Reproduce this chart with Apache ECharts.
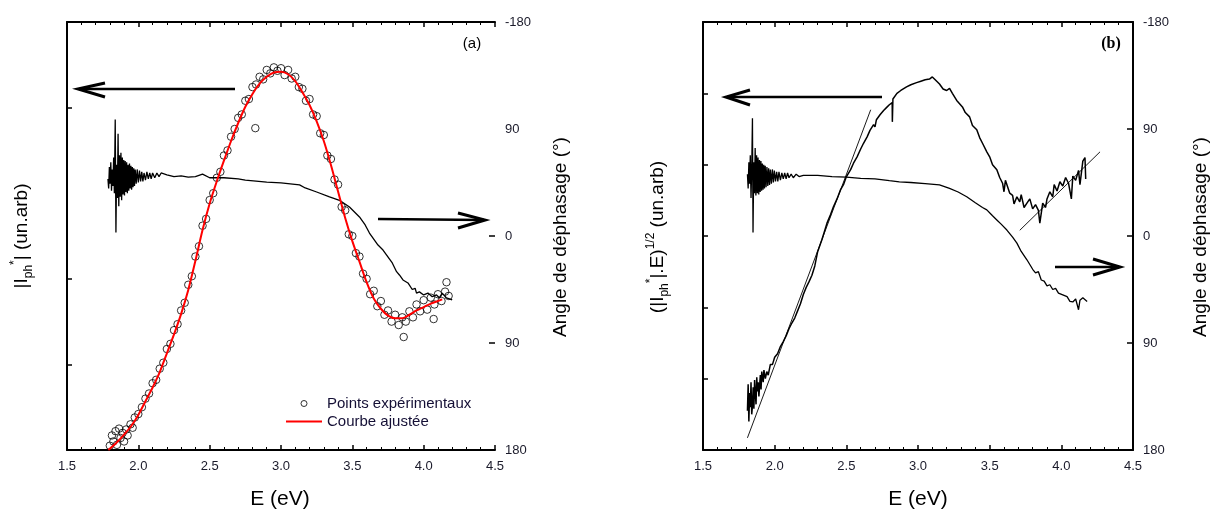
<!DOCTYPE html>
<html><head><meta charset="utf-8">
<script src="https://cdn.jsdelivr.net/npm/echarts@6/dist/echarts.min.js"></script>
<style>html,body{margin:0;padding:0;background:#fff}#c{width:1212px;height:511px}</style>
</head><body><div id="c"></div>
<script>
// ---------- Panel (a) data ----------
const expPointsA = [
[1.800,0.05],[1.815,0.17],[1.825,0.10],[1.840,0.22],[1.850,0.06],[1.865,0.25],[1.875,0.14],[1.890,0.20],
[1.900,0.10],[1.915,0.24],[1.925,0.17],[1.945,0.30],[1.960,0.26],[1.975,0.38],[2.000,0.42],[2.025,0.50],
[2.050,0.60],[2.075,0.66],[2.100,0.78],[2.125,0.82],[2.150,0.95],[2.175,1.02],[2.200,1.18],[2.225,1.24],
[2.250,1.40],[2.275,1.47],[2.300,1.63],[2.325,1.72],[2.350,1.93],[2.375,2.03],[2.400,2.26],[2.425,2.38],
[2.450,2.62],[2.475,2.70],[2.500,2.92],[2.525,3.00],[2.550,3.18],[2.575,3.25],[2.600,3.44],[2.625,3.50],
[2.650,3.66],[2.675,3.75],[2.700,3.88],[2.725,3.92],[2.750,4.08],[2.775,4.10],[2.800,4.24],[2.820,3.76],
[2.825,4.27],[2.850,4.36],[2.875,4.33],[2.900,4.44],[2.925,4.40],[2.950,4.47],[2.975,4.43],[3.000,4.46],
[3.025,4.38],[3.050,4.44],[3.075,4.34],[3.100,4.36],[3.125,4.24],[3.150,4.22],[3.175,4.08],[3.200,4.10],
[3.225,3.92],[3.250,3.90],[3.275,3.70],[3.300,3.68],[3.325,3.44],[3.350,3.40],[3.375,3.16],[3.400,3.10],
[3.425,2.84],[3.450,2.80],[3.475,2.52],[3.500,2.50],[3.525,2.30],[3.550,2.26],[3.575,2.06],[3.600,2.00],
[3.625,1.82],[3.650,1.86],[3.675,1.68],[3.700,1.74],[3.725,1.58],[3.750,1.63],[3.775,1.50],[3.800,1.58],
[3.825,1.46],[3.850,1.55],[3.860,1.32],[3.875,1.50],[3.900,1.62],[3.925,1.55],[3.950,1.70],[3.975,1.62],
[4.000,1.75],[4.025,1.64],[4.050,1.78],[4.070,1.53],[4.075,1.70],[4.100,1.82],[4.125,1.74],[4.150,1.85],
[4.160,1.96],[4.175,1.80]
];
const fitCurveA = [
[1.79,0.00],[1.85,0.09],[1.90,0.18],[1.95,0.28],[2.00,0.41],[2.05,0.57],[2.10,0.73],[2.15,0.91],
[2.20,1.13],[2.25,1.35],[2.30,1.59],[2.35,1.87],[2.40,2.21],[2.45,2.57],[2.50,2.88],[2.55,3.14],
[2.60,3.38],[2.65,3.61],[2.70,3.82],[2.75,4.01],[2.80,4.16],[2.85,4.28],[2.90,4.36],[2.95,4.41],
[3.00,4.42],[3.05,4.39],[3.10,4.31],[3.15,4.18],[3.20,4.03],[3.25,3.84],[3.30,3.61],[3.35,3.33],
[3.40,3.02],[3.45,2.71],[3.50,2.44],[3.55,2.20],[3.60,1.96],[3.65,1.77],[3.70,1.65],[3.75,1.57],
[3.80,1.54],[3.85,1.54],[3.90,1.58],[3.95,1.63],[4.00,1.67],[4.05,1.71],[4.10,1.74],[4.13,1.76]
];
const phaseA = [
[1.787,-48],[1.792,-40],[1.797,-58],[1.802,-44],[1.807,-62],[1.812,-38],[1.817,-56],[1.822,-42],
[1.827,-66],[1.832,-36],[1.838,-98],[1.843,-3],[1.848,-60],[1.853,-32],[1.858,-86],[1.863,-25],
[1.868,-68],[1.873,-33],[1.878,-70],[1.883,-30],[1.888,-66],[1.893,-35],[1.898,-64],[1.903,-34],
[1.908,-63],[1.913,-37],[1.918,-62],[1.923,-36],[1.928,-60],[1.933,-38],[1.938,-61],[1.943,-40],
[1.948,-59],[1.953,-39],[1.958,-58],[1.963,-41],[1.968,-57],[1.973,-42],[1.978,-56],[1.985,-44],
[1.992,-56],[2.000,-45],[2.008,-55],[2.016,-46],[2.024,-54],[2.032,-46],[2.040,-53],[2.050,-47],
[2.060,-54],[2.070,-48],[2.080,-53],[2.090,-48],[2.100,-53],[2.115,-49],[2.130,-53],[2.145,-50],
[2.160,-53],[2.20,-51.5],[2.25,-50],[2.30,-50.5],[2.35,-49.5],[2.40,-50],[2.45,-52],
[2.50,-49],[2.60,-49],[2.70,-48],[2.75,-47],[2.90,-45.4],[3.00,-44.6],[3.13,-43],[3.17,-40.4],
[3.25,-37],[3.34,-33],[3.41,-30],[3.48,-24.4],[3.55,-16],[3.59,-9.3],[3.62,-2.5],[3.68,7.6],
[3.715,11.8],[3.78,22.7],[3.81,30],[3.83,32.8],[3.855,37],[3.89,39.5],[3.92,45],[3.94,44],
[3.95,48],[3.97,47],[4.00,49.6],[4.03,48],[4.06,51],[4.09,49.6],[4.11,52],[4.13,48],[4.16,52],[4.20,53.8]
];
// ---------- Panel (b) data ----------
const sqrtCurveB = [
[1.810,0.55],[1.815,0.92],[1.820,0.40],[1.825,0.80],[1.830,0.60],[1.835,0.95],[1.840,0.50],[1.845,0.62],
[1.850,0.88],[1.855,0.58],[1.860,0.98],[1.865,0.80],[1.870,0.64],[1.875,1.02],[1.880,0.82],[1.885,0.95],
[1.890,0.75],[1.900,1.05],[1.905,0.85],[1.910,1.10],[1.920,0.95],[1.925,1.12],[1.935,1.00],[1.945,1.10],
[1.955,1.05],[1.970,1.20],[1.985,1.20],[2.00,1.30],[2.02,1.35],[2.04,1.45],[2.06,1.52],[2.08,1.60],
[2.10,1.70],[2.12,1.78],[2.14,1.85],[2.16,1.95],[2.18,2.05],[2.20,2.18],[2.22,2.28],[2.24,2.36],
[2.26,2.45],[2.28,2.58],[2.30,2.78],[2.33,2.95],[2.365,3.18],[2.39,3.30],[2.41,3.41],[2.435,3.52],
[2.46,3.65],[2.48,3.72],[2.50,3.83],[2.53,3.93],[2.55,4.02],[2.575,4.11],[2.60,4.22],[2.62,4.30],
[2.645,4.39],[2.665,4.48],[2.69,4.56],[2.70,4.53],[2.71,4.63],[2.735,4.70],[2.76,4.76],[2.78,4.80],
[2.80,4.84],[2.82,4.87],[2.821,4.60],[2.825,4.92],[2.853,5.00],[2.88,5.04],[2.92,5.09],[2.95,5.12],
[2.99,5.15],[3.02,5.17],[3.05,5.19],[3.08,5.20],[3.10,5.23],[3.12,5.19],[3.15,5.13],[3.175,5.06],
[3.20,5.04],[3.22,5.07],[3.24,5.00],[3.27,4.90],[3.31,4.81],[3.33,4.73],[3.36,4.67],[3.38,4.55],
[3.41,4.49],[3.43,4.38],[3.45,4.30],[3.48,4.18],[3.50,4.11],[3.52,4.00],[3.55,3.93],[3.57,3.82],
[3.59,3.74],[3.60,3.62],[3.61,3.78],[3.64,3.60],[3.66,3.57],[3.67,3.45],[3.69,3.55],[3.71,3.48],
[3.72,3.58],[3.74,3.40],[3.76,3.46],[3.78,3.52],[3.80,3.38],[3.82,3.44],[3.84,3.36],[3.85,3.18],
[3.87,3.46],[3.89,3.40],[3.90,3.52],[3.92,3.62],[3.94,3.55],[3.95,3.72],[3.97,3.63],[3.99,3.76],
[4.01,3.70],[4.03,3.82],[4.05,3.74],[4.07,3.52],[4.08,3.84],[4.10,3.78],[4.12,3.92],[4.13,3.72],
[4.15,4.05],[4.165,4.10],[4.17,3.80]
];
const linFitLowB = [[1.81,0.17],[2.67,4.77]];
const linFitHighB = [[3.71,3.08],[4.27,4.18]];
const phaseB = [
[1.810,-52],[1.815,-40],[1.820,-62],[1.825,-44],[1.830,-68],[1.835,-32],[1.840,-58],[1.845,-99],
[1.849,-3],[1.854,-62],[1.859,-36],[1.864,-74],[1.869,-34],[1.874,-68],[1.879,-36],[1.884,-66],
[1.889,-35],[1.894,-64],[1.899,-37],[1.904,-63],[1.909,-38],[1.914,-61],[1.919,-39],[1.924,-60],
[1.929,-40],[1.934,-59],[1.940,-41],[1.946,-58],[1.952,-42],[1.958,-57],[1.964,-43],[1.970,-56],
[1.977,-44],[1.984,-56],[1.991,-45],[1.998,-55],[2.006,-46],[2.014,-54],[2.022,-46],[2.030,-54],
[2.040,-47],[2.050,-53],[2.060,-48],[2.070,-53],[2.080,-48],[2.090,-53],[2.100,-49],[2.115,-52],
[2.130,-49],[2.150,-52],[2.170,-50],[2.20,-51],[2.30,-51],[2.40,-50],
[2.50,-49.5],[2.60,-48.5],[2.70,-48],[2.80,-46.5],[2.87,-45.5],[2.95,-45],[3.05,-44],[3.15,-43],
[3.22,-40],[3.28,-37],[3.34,-33],[3.40,-28],[3.45,-24],[3.48,-22],[3.52,-17],[3.55,-13.5],
[3.58,-10],[3.62,-5],[3.66,1],[3.69,6],[3.72,13],[3.76,20],[3.78,24],[3.80,28],[3.82,31],
[3.84,30],[3.86,37],[3.88,38],[3.90,42],[3.92,41],[3.94,45],[3.96,44],[3.98,48],[4.01,49.5],
[4.04,51],[4.06,55],[4.08,55.5],[4.10,53],[4.12,62],[4.13,54],[4.15,52],[4.18,55]
];
// ---------- tick labels / texts ----------
const phaseTickLabels = {'-180':'-180','-90':'90','0':'0','90':'90','180':'180'};
const legendNames = ['Points expérimentaux','Courbe ajustée'];

const FONT = 'Liberation Sans, Arial, Helvetica, sans-serif';
const TXT = '#1a1a2a';

function xAx(grid, pos, showLabel){
  return {
    type:'value', gridIndex:grid, position:pos, min:1.5, max:4.5, interval:0.5,
    axisLine:{show:true, onZero:false, lineStyle:{color:'#000', width:2}},
    axisTick:{show:true, inside:true, length:5, lineStyle:{color:'#000', width:1.5}},
    minorTick:{show:true, splitNumber:5, length:3, lineStyle:{color:'#000', width:1}},
    axisLabel:{show:showLabel, fontSize:13, fontFamily:FONT, color:TXT, margin:10,
      formatter:v=>v.toFixed(1)},
    splitLine:{show:false}, minorSplitLine:{show:false}
  };
}
function yLeft(grid, max, ticks){
  const tick = {show:true, inside:true, length:5, lineStyle:{color:'#000', width:1.5}};
  if (ticks) tick.customValues = ticks;
  return {
    type:'value', gridIndex:grid, position:'left', min:0, max:max, interval:1,
    axisLine:{show:true, onZero:false, lineStyle:{color:'#000', width:2}},
    axisTick:tick, axisLabel:{show:false}, splitLine:{show:false}
  };
}
function yRight(grid, showLine, ticks){
  const tick = {show:true, inside:true, length:6, lineStyle:{color:'#000', width:1.5}};
  if (ticks) tick.customValues = ticks;
  return {
    type:'value', gridIndex:grid, position:'right', min:-180, max:180, interval:90, inverse:true,
    axisLine:{show:showLine, onZero:false, lineStyle:{color:'#000', width:2}},
    axisTick:tick,
    axisLabel:{show:true, fontSize:13, fontFamily:FONT, color:TXT, margin:10,
      formatter:v=>phaseTickLabels[String(v)]},
    splitLine:{show:false}
  };
}

const chart = echarts.init(document.getElementById('c'), null, {renderer:'canvas'});

const titleRich = {
  m:{fontSize:19, fontFamily:FONT, color:'#000', lineHeight:26},
  s:{fontSize:12, fontFamily:FONT, color:'#000', lineHeight:12, verticalAlign:'bottom'},
  p:{fontSize:12, fontFamily:FONT, color:'#000', lineHeight:12, verticalAlign:'top'}
};
function rotText(x, y, text, rich){
  return {type:'text', x:x, y:y, rotation:Math.PI/2, silent:true,
    style:{text:text, rich:rich, font:'19px '+FONT, fill:'#000', align:'center', verticalAlign:'middle'}};
}
function plainText(x, y, text, font){
  return {type:'text', x:x, y:y, silent:true,
    style:{text:text, font:font, fill:'#000', align:'center', verticalAlign:'middle'}};
}
function arrow(shaft, head){
  return [
    {type:'polyline', silent:true, shape:{points:shaft}, style:{stroke:'#000', lineWidth:2.5, fill:null}},
    {type:'polyline', silent:true, shape:{points:head}, style:{stroke:'#000', lineWidth:3, fill:null}}
  ];
}

const option = {
  animation:false,
  backgroundColor:'#fff',
  grid:[
    {left:67, top:22, width:428, height:428},
    {left:703, top:22, width:430, height:428}
  ],
  xAxis:[ xAx(0,'bottom',true), xAx(0,'top',false), xAx(1,'bottom',true), xAx(1,'top',false) ],
  yAxis:[ yLeft(0,5,[1,2,4]), yRight(0,false,[0,90]), yLeft(1,6,null), yRight(1,true,null) ],
  legend:{
    show:true, orient:'vertical', left:280, top:391, itemWidth:36, itemHeight:6, itemGap:3,
    textStyle:{fontSize:15, fontFamily:FONT, color:'#140f35'},
    data:[
      {name:legendNames[0], icon:'circle', itemStyle:{color:'rgba(0,0,0,0)', borderColor:'#000', borderWidth:1}},
      {name:legendNames[1], itemStyle:{opacity:0}, lineStyle:{color:'#ff0000', width:2}}
    ],
    selectedMode:false
  },
  series:[
    {name:legendNames[0], type:'scatter', xAxisIndex:0, yAxisIndex:0, data:expPointsA,
      symbol:'circle', symbolSize:7.5, symbolKeepAspect:true,
      itemStyle:{color:'rgba(0,0,0,0)', borderColor:'#000', borderWidth:1}, z:3},
    {name:legendNames[1], type:'line', xAxisIndex:0, yAxisIndex:0, data:fitCurveA,
      symbol:'none', smooth:0.3, lineStyle:{color:'#ff0000', width:2}, itemStyle:{color:'#ff0000'}, z:4},
    {name:'phaseA', type:'line', xAxisIndex:0, yAxisIndex:1, data:phaseA,
      symbol:'none', lineStyle:{color:'#000', width:1.3}, z:2},
    {name:'sqrtB', type:'line', xAxisIndex:2, yAxisIndex:2, data:sqrtCurveB,
      symbol:'none', lineStyle:{color:'#000', width:1.5}, z:2},
    {name:'linLowB', type:'line', xAxisIndex:2, yAxisIndex:2, data:linFitLowB,
      symbol:'none', lineStyle:{color:'#000', width:0.9}, z:2},
    {name:'linHighB', type:'line', xAxisIndex:2, yAxisIndex:2, data:linFitHighB,
      symbol:'none', lineStyle:{color:'#000', width:0.9}, z:2},
    {name:'phaseB', type:'line', xAxisIndex:2, yAxisIndex:3, data:phaseB,
      symbol:'none', lineStyle:{color:'#000', width:1.3}, z:2}
  ],
  graphic:[
    rotText(22, 236, '{m|\u007CI}{s|ph}{p|*}{m|\u007C (un.arb)}', titleRich),
    rotText(561, 237, '{m|Angle de déphasage (°)}', titleRich),
    rotText(658, 237, '{m|(\u007CI}{s|ph}{p|*}{m|\u007C.E)}{p|1/2}{m| (un.arb)}', titleRich),
    rotText(1201, 237, '{m|Angle de déphasage (°)}', titleRich),
    plainText(280, 499, 'E (eV)', '21px '+FONT),
    plainText(918, 499, 'E (eV)', '21px '+FONT),
    plainText(472, 44, '(a)', '15px '+FONT),
    plainText(1111, 44, '(b)', 'bold 16px Liberation Serif, Times New Roman, serif'),
    ...arrow([[235,89],[79,89]], [[105,83],[78,89],[105,97]]),
    ...arrow([[378,219],[484,220]], [[458,213],[485,220],[458,228]]),
    ...arrow([[882,97],[727,97]], [[750,90],[726,97],[750,105]]),
    ...arrow([[1055,267],[1119,267]], [[1093,259],[1120,267],[1093,275]])
  ]
};
chart.setOption(option);
</script></body></html>
